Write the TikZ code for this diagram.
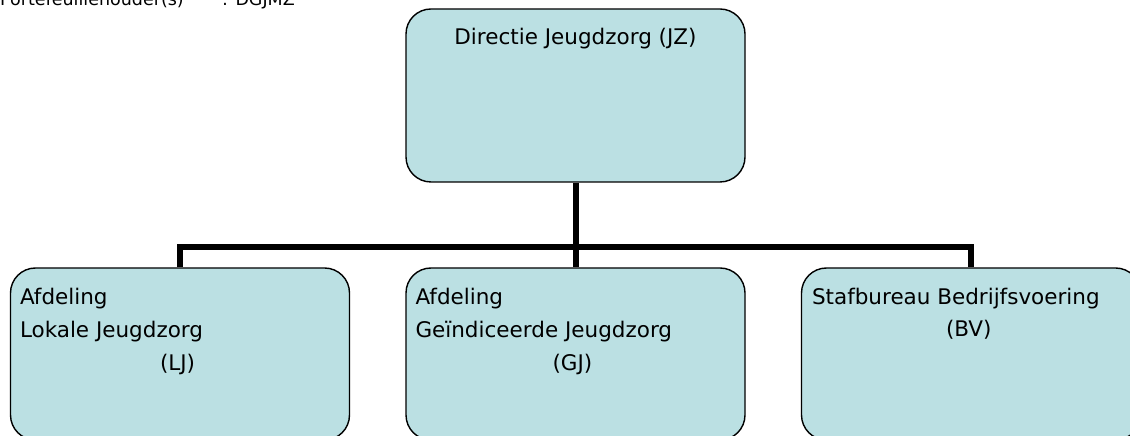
\documentclass[tikz,border=0pt]{standalone}
\usepackage{fontspec}
\setmainfont{DejaVu Sans}
\definecolor{unitfill}{HTML}{BBE0E3}
\begin{document}
\begin{tikzpicture}[x=1pt,y=1pt,
  unit/.style={draw=black, line width=1.4pt, fill=unitfill, rounded corners=25pt,
    inner sep=0pt, minimum width=339pt, minimum height=173pt},
  lbl/.style={inner sep=0pt, anchor=base west, font=\fontsize{21.5}{33}\selectfont},
  head/.style={inner sep=0pt, anchor=base west, font=\fontsize{17.5}{21}\selectfont},
  conn/.style={line width=6pt, line join=miter}]
\useasboundingbox (0,0) rectangle (1130,436);
\clip (0,0) rectangle (1130,436);

% header line
\node[head] (owner) at (0,430) {Portefeuillehouder(s)};
\node[head] (ownerval) at (222,430) {: DGJMZ};

% units
\node[unit] (jz) at (575.5,340.5) {};
\node[unit, minimum height=172pt] (lj) at (180,82) {};
\node[unit, minimum height=172pt] (gj) at (575.5,82) {};
\node[unit, minimum height=172pt] (bv) at (971,82) {};

% connectors
\coordinate (bus) at (575.5,189);
\draw[conn] (jz.south) -- (gj.north);
\draw[conn] (lj.north) -- (lj.north |- bus) -- (bv.north |- bus) -- (bv.north);

% unit texts
\node[lbl, anchor=base] (jzt) at ([yshift=-36pt]jz.north) {Directie Jeugdzorg (JZ)};

\node[lbl] (lja) at ([xshift=10pt,yshift=-37pt]lj.north west) {Afdeling};
\node[lbl] (ljb) at ([yshift=-33pt]lja.base west) {Lokale Jeugdzorg};
\node[lbl] (ljc) at ([xshift=140pt,yshift=-33pt]ljb.base west) {(LJ)};

\node[lbl] (gja) at ([xshift=10pt,yshift=-37pt]gj.north west) {Afdeling};
\node[lbl] (gjb) at ([yshift=-33pt]gja.base west) {Geïndiceerde Jeugdzorg};
\node[lbl] (gjc) at ([xshift=137pt,yshift=-33pt]gjb.base west) {(GJ)};

\node[lbl] (bva) at ([xshift=11pt,yshift=-37pt]bv.north west) {Stafbureau Bedrijfsvoering};
\node[lbl] (bvb) at ([xshift=134pt,yshift=-32pt]bva.base west) {(BV)};
\end{tikzpicture}
\end{document}
